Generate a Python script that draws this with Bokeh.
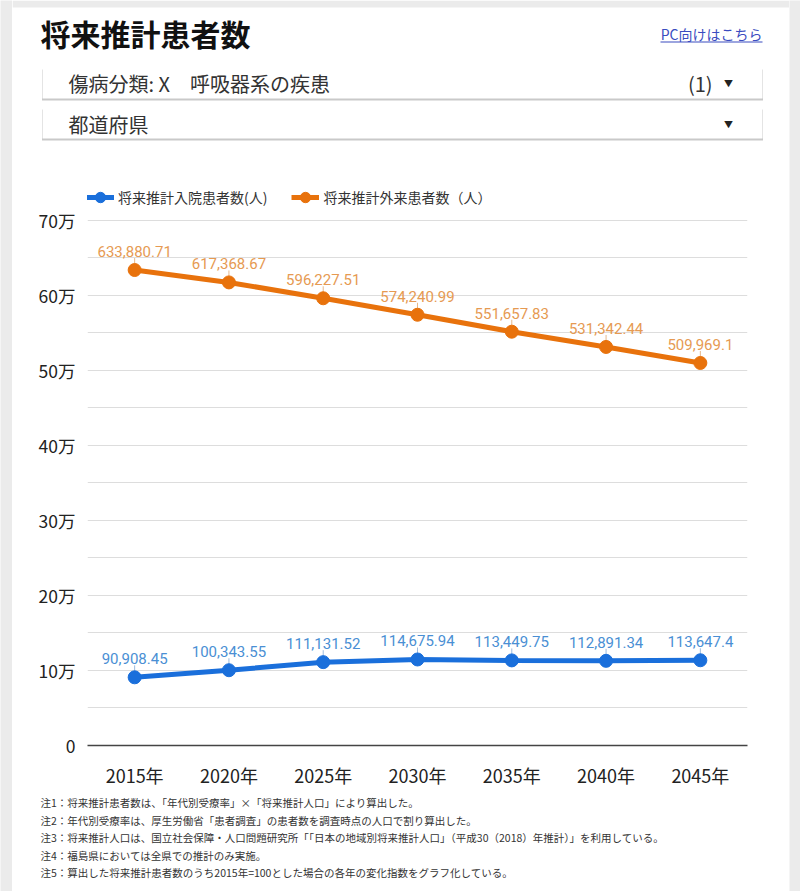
from bokeh.plotting import figure
from bokeh.layouts import column, row
from bokeh.core.properties import value
from bokeh.models import (ColumnDataSource, FactorRange, Range1d, FixedTicker, LabelSet,
                          Label, Legend, LegendItem)
from bokeh.embed import file_html
from bokeh.resources import INLINE

# ---------------- data ----------------
years = ["2015年", "2020年", "2025年", "2030年", "2035年", "2040年", "2045年"]
inpatient = [90908.45, 100343.55, 111131.52, 114675.94, 113449.75, 112891.34, 113647.4]
outpatient = [633880.71, 617368.67, 596227.51, 574240.99, 551657.83, 531342.44, 509969.1]
y_ticks = [0, 100000, 200000, 300000, 400000, 500000, 600000, 700000]
y_tick_labels = ["0", "10万", "20万", "30万", "40万", "50万", "60万", "70万"]
y_minor = [50000, 150000, 250000, 350000, 450000, 550000, 650000]
series_names = ["将来推計入院患者数(人)", "将来推計外来患者数（人）"]
title_text = "将来推計患者数"
link_text = "PC向けはこちら"
dropdown1_text = "傷病分類: X　呼吸器系の疾患"
dropdown1_count = "(1)"
dropdown2_text = "都道府県"
notes = [
    "注1：将来推計患者数は、「年代別受療率」×「将来推計人口」により算出した。",
    "注2：年代別受療率は、厚生労働省「患者調査」の患者数を調査時点の人口で割り算出した。",
    "注3：将来推計人口は、国立社会保障・人口問題研究所「「日本の地域別将来推計人口」（平成30（2018）年推計）」を利用している。",
    "注4：福島県においては全県での推計のみ実施。",
    "注5：算出した将来推計患者数のうち2015年=100とした場合の各年の変化指数をグラフ化している。",
]

JP = "Noto Sans CJK JP"
NUM = "Roboto"
BLUE = "#1a6fdb"
ORANGE = "#e8720c"
BLUE_L = "#4a8fd4"
ORANGE_L = "#e69a52"
LINK = "#3a4cc0"
PAGE_BG = "#ebebeb"

W = 777          # card width (page x 12 .. 789)
HEAD_H = 180     # page y 0 .. 180
MAIN_H = 610     # page y 180 .. 790
FOOT_H = 101     # page y 790 .. 891
FRAME_H = 566    # main plot frame height (page y 180 .. 746)
TICK_SPAN = 526  # pixels from 0 to 70万
Y_MAX = 700000
Y_END = Y_MAX * FRAME_H / TICK_SPAN
PX = Y_MAX / TICK_SPAN  # data units per pixel


def fmt(v):
    return f"{v:,.2f}".rstrip("0").rstrip(".")


def plain(width, height, xr, yr, bg="white"):
    f = figure(width=width, height=height, x_range=xr, y_range=yr, output_backend="svg",
               toolbar_location=None, x_axis_type=None, y_axis_type=None, min_border=0)
    f.outline_line_color = None
    f.background_fill_color = bg
    f.border_fill_color = bg
    f.grid.visible = False
    return f


def label(f, x, y, s, size, color="#333333", font=JP, align="left", style="normal"):
    f.add_layout(Label(x=x, y=y, text=s, text_font=font, text_font_size=size,
                       text_color=color, text_align=align, text_baseline="middle",
                       text_font_style=style))


# ---------------- header ----------------
head = plain(W, HEAD_H, Range1d(12, 789), Range1d(HEAD_H, 0))
head.quad(left=[12], right=[789], top=[0], bottom=[7], fill_color=PAGE_BG, line_color=None)
label(head, 40, 32, title_text, "30px", color="#111111", style="bold")
label(head, 762, 33, link_text, "14px", color=LINK, align="right")
head.quad(left=[660], right=[762], top=[41], bottom=[42], fill_color=LINK, line_color=None)
head.quad(left=[41.5, 41.5], right=[762.5, 762.5], top=[69, 109], bottom=[100, 140],
          fill_color="#c9c9c9", line_color=None)
head.quad(left=[42, 42], right=[762, 762], top=[68, 108], bottom=[98, 138],
          fill_color="white", line_color=None)
label(head, 68, 83, dropdown1_text, "20px")
label(head, 712, 83, dropdown1_count, "20px", align="right")
label(head, 728, 83, "▼", "9px", color="#222222", align="center")
label(head, 68, 124, dropdown2_text, "20px")
label(head, 728, 124, "▼", "9px", color="#222222", align="center")

# ---------------- main chart ----------------
src = ColumnDataSource(dict(
    x=years, inp=inpatient, out=outpatient,
    inp_lbl=[fmt(v) for v in inpatient], out_lbl=[fmt(v) for v in outpatient],
    inp_top=[v + 12 * PX for v in inpatient], out_top=[v + 12 * PX for v in outpatient],
    inp_bot=[v + 6 * PX for v in inpatient], out_bot=[v + 6 * PX for v in outpatient],
))

p = figure(width=W, height=MAIN_H, x_range=FactorRange(*years), y_range=Range1d(0, Y_END),
           output_backend="svg", toolbar_location=None,
           min_border_left=75, min_border_right=42, min_border_top=0, min_border_bottom=44)
p.outline_line_color = None
p.background_fill_color = "white"
p.border_fill_color = "white"

p.yaxis.ticker = FixedTicker(ticks=y_ticks, minor_ticks=y_minor)
p.yaxis.major_label_overrides = {t: l for t, l in zip(y_ticks, y_tick_labels)}
p.yaxis.axis_line_color = None
p.yaxis.major_tick_line_color = None
p.yaxis.minor_tick_line_color = None
p.yaxis.major_label_standoff = 6
p.yaxis.major_label_text_font = JP
p.yaxis.major_label_text_font_size = "17.5px"
p.yaxis.major_label_text_color = "#222222"

p.xaxis.axis_line_color = "#444444"
p.xaxis.axis_line_width = 1.5
p.xaxis.major_tick_line_color = None
p.xaxis.minor_tick_line_color = None
p.xaxis.major_label_standoff = 10
p.xaxis.major_label_text_font = JP
p.xaxis.major_label_text_font_size = "18px"
p.xaxis.major_label_text_color = "#222222"

p.xgrid.grid_line_color = None
p.ygrid.grid_line_color = "#dddddd"
p.ygrid.minor_grid_line_color = "#dddddd"

p.segment(x0="x", y0="inp_bot", x1="x", y1="inp_top", source=src, line_color="#9bbbe0", line_width=1)
p.segment(x0="x", y0="out_bot", x1="x", y1="out_top", source=src, line_color="#e8b88a", line_width=1)

l1 = p.line("x", "inp", source=src, line_color=BLUE, line_width=5)
s1 = p.scatter("x", "inp", source=src, size=13, fill_color=BLUE, line_color=BLUE)
l2 = p.line("x", "out", source=src, line_color=ORANGE, line_width=5)
s2 = p.scatter("x", "out", source=src, size=13, fill_color=ORANGE, line_color=ORANGE)

p.add_layout(LabelSet(x="x", y="inp", text="inp_lbl", source=src, y_offset=13,
                      text_align="center", text_baseline="bottom", text_font=value(NUM),
                      text_font_size=value("15px"), text_color=BLUE_L))
p.add_layout(LabelSet(x="x", y="out", text="out_lbl", source=src, y_offset=13,
                      text_align="center", text_baseline="bottom", text_font=value(NUM),
                      text_font_size=value("15px"), text_color=ORANGE_L))

legend = Legend(items=[LegendItem(label=series_names[0], renderers=[l1, s1]),
                       LegendItem(label=series_names[1], renderers=[l2, s2])],
                location=(-1, 535), orientation="horizontal", padding=0, margin=0,
                spacing=24, glyph_width=28, glyph_height=26, label_height=26,
                label_standoff=4, border_line_color=None, background_fill_alpha=0,
                label_text_font=JP, label_text_font_size="14px", label_text_color="#333333")
p.add_layout(legend, "center")

# ---------------- footer ----------------
foot = plain(W, FOOT_H, Range1d(12, 789), Range1d(891, 790))
for i, n in enumerate(notes):
    label(foot, 40, 802 + 17.5 * i, n, "10.5px", color="#333333")

# ---------------- page edges ----------------
left_strip = plain(12, 891, Range1d(0, 1), Range1d(0, 1), bg=PAGE_BG)
right_strip = plain(11, 891, Range1d(0, 1), Range1d(0, 1), bg=PAGE_BG)

layout = row(left_strip, column(row(head), row(p), row(foot), spacing=0), right_strip, spacing=0)

open("out.html", "w").write(file_html(layout, INLINE))
